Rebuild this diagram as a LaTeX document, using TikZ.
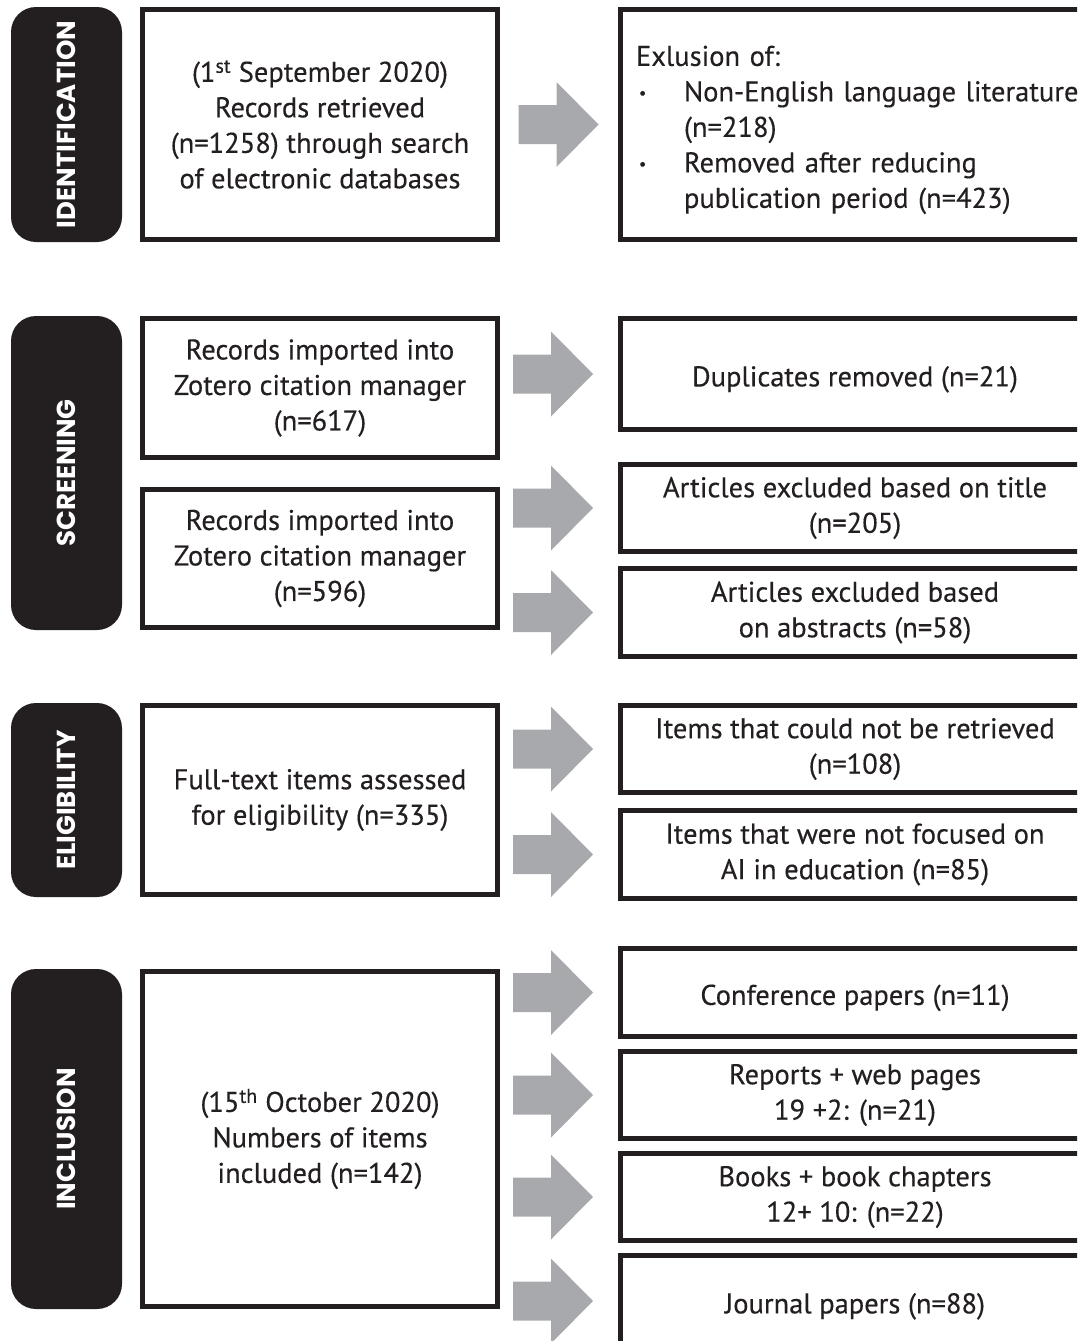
\documentclass[tikz,border=0pt]{standalone}
\usepackage{fontspec}
\setmainfont{PT Sans}[FakeBold=0.3]
\newfontfamily\tabfont{Poppins}
\usetikzlibrary{calc}
\definecolor{ink}{HTML}{231F20}
\definecolor{arrowgrey}{HTML}{A7A9AC}

% grey block arrow from a stage box towards one of its result boxes
\newcommand{\stagearrow}[3]{%
  \fill[arrowgrey] ($(#1.east |- #2.west)+(#3,0)$) ++(0,-19.5) -- ++(38,0) -- ++(0,-23)
    -- ++(42,42.5) -- ++(-42,42.5) -- ++(0,-23) -- ++(-38,0) -- cycle;}

\begin{document}
\begin{tikzpicture}[x=1pt,y=-1pt,
  every node/.style={inner sep=0pt, outer sep=0pt},
  % the strut on the first line sets the text a little below the box centre
  firstline/.style={execute at begin node={\rule{0pt}{#1}}},
  bodytext/.style={text=ink, font=\fontsize{28.5}{35.5}\selectfont, firstline=31pt},
  stagebox/.style={bodytext, draw=ink, line width=5pt, fill=white,
    minimum width=355pt, align=center},
  resultbox/.style={bodytext, draw=ink, line width=5pt, fill=white,
    minimum width=469pt, align=center},
  phasetab/.style={fill=ink, rounded corners=25pt, minimum height=111pt,
    text=white, rotate=90, font=\tabfont\bfseries\fontsize{26}{30}\selectfont}
]
\useasboundingbox (0,0) rectangle (1077,1341);
\clip (0,0) rectangle (1077,1341);

% phase tabs
\node[phasetab, minimum width=235pt] (idtab) at (66.5,124.5) {IDENTIFICATION};
\node[phasetab, minimum width=314pt] (sctab) at (66.5,473) {SCREENING};
\node[phasetab, minimum width=194pt] (eltab) at (66.5,800) {ELIGIBILITY};
\node[phasetab, minimum width=340pt] (intab) at (66.5,1139) {INCLUSION};

% stage boxes
\node[stagebox, firstline=23pt, minimum height=230pt] (idbox) at (320,124.5)
  {(1\textsuperscript{st} September 2020)\\ Records retrieved\\ (n=1258) through search\\ of electronic databases};
\node[stagebox, minimum height=139pt] (scbox1) at (320,388)
  {Records imported into\\ Zotero citation manager\\ (n=617)};
\node[stagebox, minimum height=138pt] (scbox2) at (320,558.5)
  {Records imported into\\ Zotero citation manager\\ (n=596)};
\node[stagebox, minimum height=189pt] (elbox) at (320,800)
  {Full-text items assessed\\ for eligibility (n=335)};
\node[stagebox, firstline=26pt, minimum height=335pt] (inbox) at (320,1139)
  {(15\textsuperscript{th} October 2020)\\ Numbers of items\\ included (n=142)};

% result boxes
\node[resultbox, minimum height=230pt, text width=438pt, align=left] (r1) at (855,124.5)
  {Exlusion of:\\
   \makebox[48pt][l]{\hspace*{3pt}\raisebox{3pt}{\fontsize{16}{16}\selectfont•}}\mbox{Non-English language literature}\\
   \hspace*{48pt}(n=218)\\
   \makebox[48pt][l]{\hspace*{3pt}\raisebox{3pt}{\fontsize{16}{16}\selectfont•}}Removed after reducing\\
   \hspace*{48pt}publication period (n=423)};
\node[resultbox, minimum height=111pt] (r2) at (855,374) {Duplicates removed (n=21)};
\node[resultbox, minimum height=87pt] (r3) at (855,508) {Articles excluded based on title\\ (n=205)};
\node[resultbox, minimum height=88pt] (r4) at (855,612.5) {Articles excluded based\\ on abstracts (n=58)};
\node[resultbox, minimum height=87pt] (r5) at (855,749) {Items that could not be retrieved\\ (n=108)};
\node[resultbox, minimum height=88pt] (r6) at (855,854.5) {Items that were not focused on\\ AI in education (n=85)};
\node[resultbox, minimum height=88pt] (r7) at (855,992.5) {Conference papers (n=11)};
\node[resultbox, minimum height=87pt] (r8) at (855,1095) {Reports + web pages\\ 19 +2: (n=21)};
\node[resultbox, minimum height=87pt] (r9) at (855,1197) {Books + book chapters\\ 12+ 10: (n=22)};
\node[resultbox, firstline=24pt, minimum height=91pt] (r10) at (855,1301) {Journal papers (n=88)};

% connectors
\stagearrow{idbox}{r1}{21}
\stagearrow{scbox1}{r2}{15.5}
\stagearrow{scbox2}{r3}{15.5}
\stagearrow{scbox2}{r4}{15.5}
\stagearrow{elbox}{r5}{15.5}
\stagearrow{elbox}{r6}{15.5}
\stagearrow{inbox}{r7}{15.5}
\stagearrow{inbox}{r8}{15.5}
\stagearrow{inbox}{r9}{15.5}
\stagearrow{inbox}{r10}{15.5}
\end{tikzpicture}
\end{document}
